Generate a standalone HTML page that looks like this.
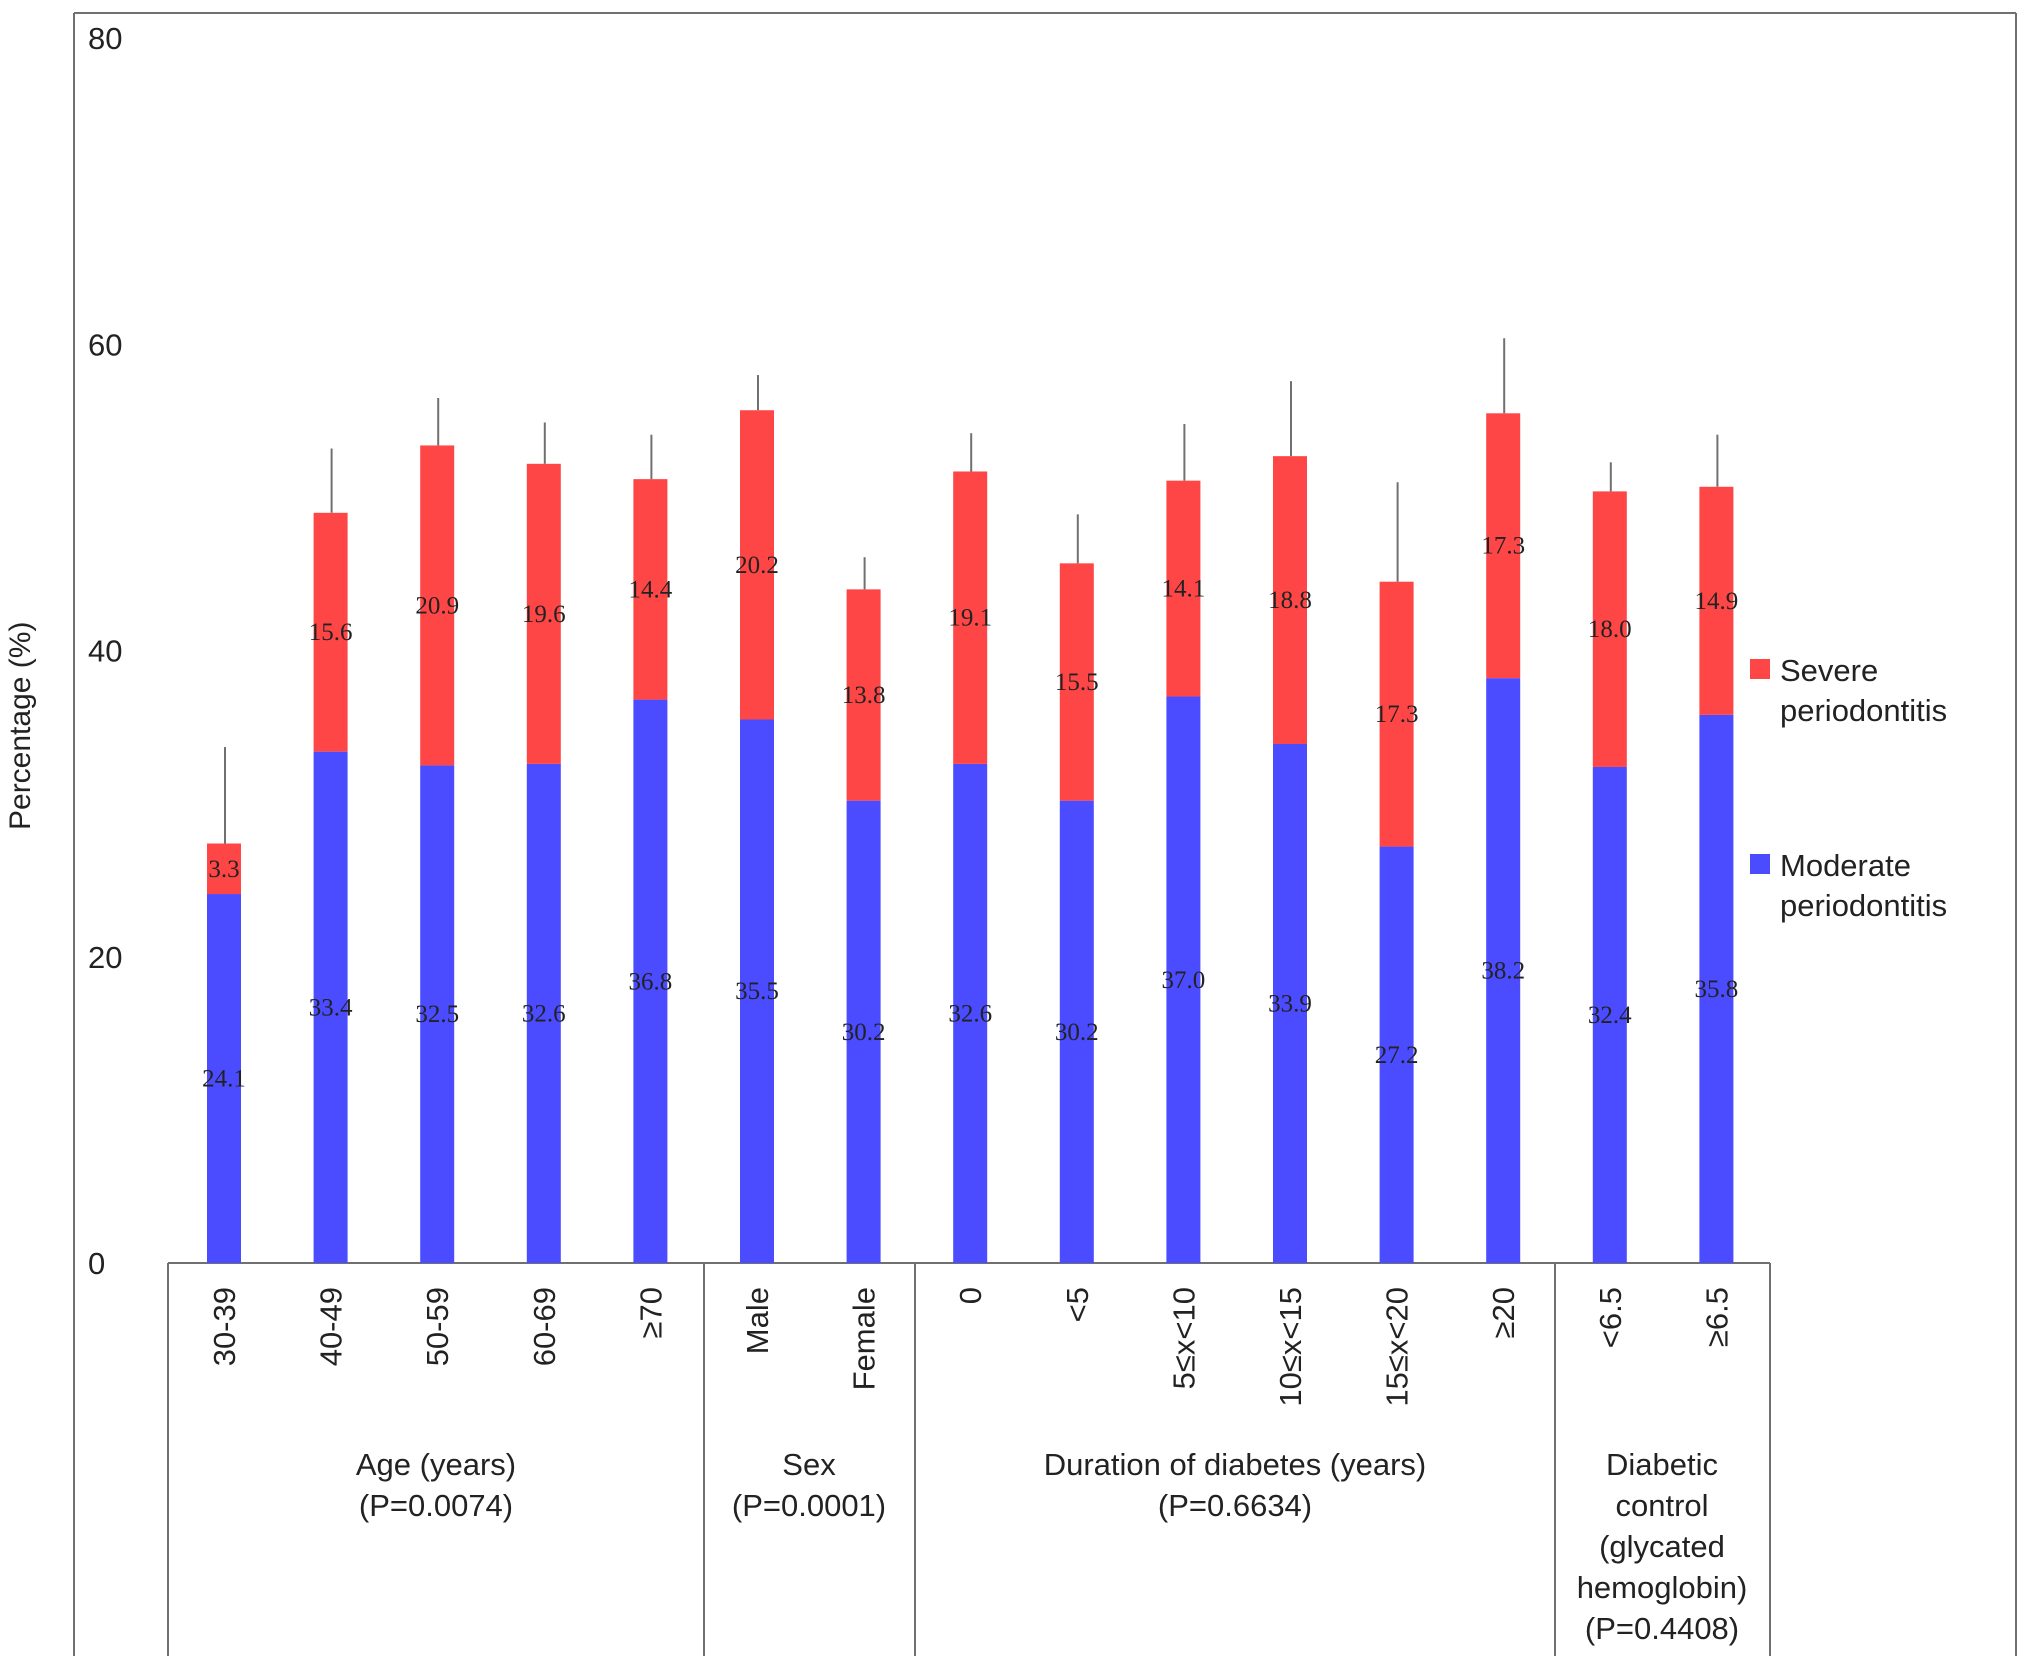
<!DOCTYPE html>
<html><head><meta charset="utf-8"><style>
body{margin:0;background:#fff}
svg{display:block}
.t{font-family:"Liberation Sans",sans-serif;fill:#222}
.v{font-family:"Liberation Serif",serif;font-size:25px;fill:#222}
</style></head><body>
<svg id="c" width="2032" height="1668" viewBox="0 0 2032 1668" xmlns="http://www.w3.org/2000/svg">
<g id="frame" stroke="#707070" stroke-width="2" fill="none">
<line x1="74" y1="13" x2="2016" y2="13"/>
<line x1="74" y1="13" x2="74" y2="1656"/>
<line x1="2016" y1="13" x2="2016" y2="1656"/>
<line x1="168" y1="1263" x2="1770" y2="1263"/>
<line x1="168" y1="1263" x2="168" y2="1656"/>
<line x1="704" y1="1263" x2="704" y2="1656"/>
<line x1="915" y1="1263" x2="915" y2="1656"/>
<line x1="1555" y1="1263" x2="1555" y2="1656"/>
<line x1="1770" y1="1263" x2="1770" y2="1656"/>
</g>
<text class="t" x="30" y="830" font-size="30" transform="rotate(-90 30 830)">Percentage (%)</text>
<g id="yt"></g>
<g id="bars"></g>
<g id="xl"></g>
<g class="t" font-size="31" text-anchor="middle">
<text x="436" y="1475">Age (years)</text>
<text x="436" y="1516">(P=0.0074)</text>
<text x="809" y="1475">Sex</text>
<text x="809" y="1516">(P=0.0001)</text>
<text x="1235" y="1475">Duration of diabetes (years)</text>
<text x="1235" y="1516">(P=0.6634)</text>
<text x="1662" y="1475">Diabetic</text>
<text x="1662" y="1516">control</text>
<text x="1662" y="1557">(glycated</text>
<text x="1662" y="1598">hemoglobin)</text>
<text x="1662" y="1639">(P=0.4408)</text>
</g>
<g class="t" font-size="31">
<rect x="1750" y="659" width="20" height="20" fill="#ff4646"/>
<text x="1780" y="681">Severe</text>
<text x="1780" y="721">periodontitis</text>
<rect x="1750" y="854" width="20" height="20" fill="#4b4bff"/>
<text x="1780" y="876">Moderate</text>
<text x="1780" y="916">periodontitis</text>
</g>
</svg>
<script>
const categories=["30-39","40-49","50-59","60-69","≥70","Male","Female","0","<5","5≤x<10","10≤x<15","15≤x<20","≥20","<6.5","≥6.5"];
const moderate=[24.1,33.4,32.5,32.6,36.8,35.5,30.2,32.6,30.2,37.0,33.9,27.2,38.2,32.4,35.8];
const severe=[3.3,15.6,20.9,19.6,14.4,20.2,13.8,19.1,15.5,14.1,18.8,17.3,17.3,18.0,14.9];
const errors=[6.3,4.2,3.1,2.7,2.9,2.3,2.1,2.5,3.2,3.7,4.9,6.5,4.9,1.9,3.4];
const yTicks=[0,20,40,60,80];
const NS="http://www.w3.org/2000/svg";
const y0=1263,pxPer=15.31;
function y(v){return y0-v*pxPer;}
function x(i){return 224+i*106.6;}
const bw=34;
function mk(tag,attrs,parent){const e=document.createElementNS(NS,tag);for(const k in attrs)e.setAttribute(k,attrs[k]);parent.appendChild(e);return e;}
const yt=document.getElementById('yt');
yTicks.forEach(v=>{const t=mk('text',{x:88,y:y(v)+11,class:'t','font-size':31},yt);t.textContent=v;

});
const bars=document.getElementById('bars'),xl=document.getElementById('xl');
categories.forEach((c,i)=>{
 const cx=x(i),m=moderate[i],s=severe[i],tot=m+s;
 const eb=mk('line',{x1:cx+1,x2:cx+1,y1:y(tot),y2:y(tot+errors[i]),stroke:'#707070','stroke-width':2},bars);
 
 
 const rb=mk('rect',{x:cx-bw/2,y:y(m),width:bw,height:y(0)-y(m),fill:'#4b4bff'},bars);
 
 
 const rs=mk('rect',{x:cx-bw/2,y:y(tot),width:bw,height:y(m)-y(tot),fill:'#ff4646'},bars);
 
 
 const lm=mk('text',{x:cx,y:y(m/2)+8,class:'v','text-anchor':'middle'},bars);lm.textContent=m.toFixed(1);
 
 
 const ls=mk('text',{x:cx,y:y(m+s/2)+8,class:'v','text-anchor':'middle'},bars);ls.textContent=s.toFixed(1);
 
 
 const lx=mk('text',{x:cx+11,y:1287,class:'t','font-size':31,'text-anchor':'end',transform:`rotate(-90 ${cx+11} 1287)`},xl);lx.textContent=c;
 
 
});
</script>
</body></html>
